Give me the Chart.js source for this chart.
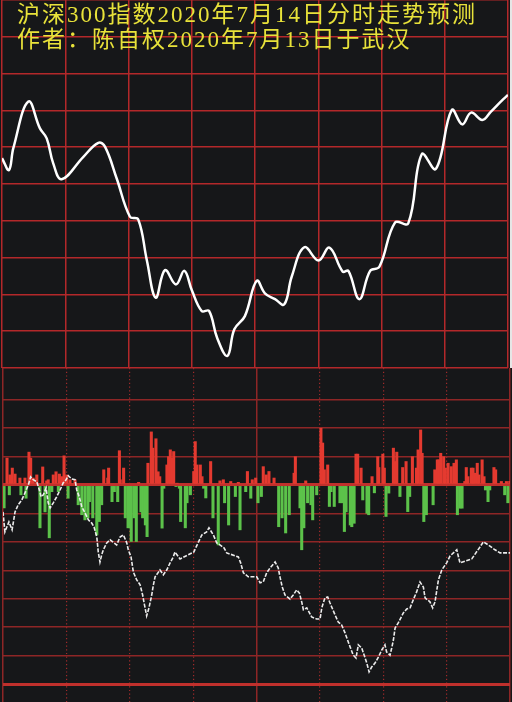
<!DOCTYPE html>
<html>
<head>
<meta charset="utf-8">
<script src="https://cdn.jsdelivr.net/npm/chart.js@4/dist/chart.umd.min.js"></script>
<style>
html, body { margin: 0; padding: 0; background: #fff; }
#wrap { position: relative; width: 512px; height: 702px; background: #161719; overflow: hidden; }
#topBox { position: absolute; left: 0; top: 0; width: 510px; height: 369px; }
#botBox { position: absolute; left: 0; top: 368px; width: 512px; height: 334px; }
#edge { position: absolute; left: 510px; top: 0; width: 2px; height: 368px; background: #e6e6e6; }
#title {
  position: absolute; left: 17px; top: 3px;
  color: #e8e23a; font-size: 23px; line-height: 24.5px;
  font-family: 'Liberation Serif', 'Noto Sans CJK SC', serif;
  letter-spacing: 2px; white-space: nowrap;
}
</style>
</head>
<body>
<div id="wrap">
  <div id="topBox"><canvas id="topChart" width="510" height="369"></canvas></div>
  <div id="edge"></div>
  <div id="botBox"><canvas id="botChart" width="512" height="334"></canvas></div>
  <div id="title">沪深300指数2020年7月14日分时走势预测<br>作者：陈自权2020年7月13日于武汉</div>
</div>
<script>
// 分时价格 (minute, level)
const topMin = [0, 3.3, 5.4, 12.5, 18.0, 21.2, 24.3, 28.3, 38.6, 45.7, 48.9, 54.4, 60.7, 64.6, 68.7, 72.9,
  77.3, 82.5, 86.5, 90.0, 94.7, 98.2, 102.1, 106.9, 110.2, 115.2, 120.8, 124.7, 129.5, 133.9, 137.4, 143.4,
  150.1, 155.3, 161.6, 164.3, 169.5, 174.6, 179.0, 186.4, 192.7, 199.1, 205.8, 213.3, 218.3, 222.5, 227.8,
  231.8, 237.3, 240];
const topLevel = [4757.0, 4753.8, 4759.8, 4772.4, 4765.1, 4762.4, 4755.6, 4751.3, 4757.4, 4761.2, 4760.1,
  4751.5, 4741.1, 4740.4, 4729.3, 4719.1, 4726.6, 4722.7, 4726.4, 4721.2, 4715.5, 4715.5, 4708.1, 4703.3,
  4710.5, 4714.1, 4723.7, 4720.3, 4718.7, 4717.3, 4724.8, 4732.8, 4729.2, 4732.7, 4726.2, 4726.4, 4718.7,
  4726.4, 4727.5, 4739.5, 4739.3, 4758.1, 4754.1, 4770.1, 4766.2, 4769.4, 4767.4, 4769.6, 4772.8, 4774.2];

// 红柱 (minute, value)
const upMin = [1.9, 3.3, 4.4, 5.7, 8.0, 10.4, 12.3, 13.1, 14.3, 16.0, 18.8, 20.7, 21.4, 23.8, 25.1, 26.7, 27.8,
  28.9, 30.2, 31.7, 34.1, 47.7, 49.6, 50.0, 55.1, 55.5, 57.1, 64.2, 68.6, 70.2, 70.9, 72.4, 73.4, 74.2, 77.6,
  78.4, 79.2, 80.0, 80.8, 82.4, 90.3, 91.0, 91.8, 93.4, 94.2, 98.3, 102.7, 104.3, 107.8, 111.4, 115.7, 118.0,
  119.6, 123.2, 124.6, 125.9, 128.3, 137.8, 138.4, 143.3, 150.5, 151.3, 152.1, 153.7, 167.1, 167.9, 169.5,
  174.7, 177.4, 177.9, 179.8, 180.5, 184.8, 185.6, 186.4, 189.2, 190.8, 193.8, 195.7, 196.5, 197.7, 198.4,
  204.4, 205.6, 206.3, 207.2, 208.6, 209.4, 210.7, 212.2, 213.5, 214.6, 218.6, 219.3, 220.1, 221.7, 222.5,
  223.3, 224.5, 225.3, 226.8, 227.7, 232.4, 233.2, 235.9, 238.3, 239.9];
const upVal = [9.4, 3.5, 5.9, 3.8, 2.4, 2.4, 11.5, 9.4, 2.4, 3.5, 6.3, 1.4, 1.8, 3.5, 4.6, 3.8, 2.9,
  10.2, 3.5, 1.8, 1.8, 5.3, 2.4, 5.9, 12.0, 1.8, 5.9, 0.9, 7.6, 18.6, 12.9, 16.2, 4.6, 2.9, 7.0,
  9.9, 12.3, 9.4, 11.7, 0.6, 4.7, 15.2, 7.0, 7.0, 2.9, 8.2, 1.4, 1.8, 1.2, 0.9, 4.7, 1.8,
  2.4, 6.4, 3.5, 4.7, 2.4, 4.1, 9.9, 1.4, 19.9, 14.7, 5.3, 7.0, 10.8, 10.8, 5.9,
  2.9, 9.9, 6.1, 10.8, 5.9, 12.9, 8.2, 11.5, 6.1, 8.2, 9.9, 5.9, 12.3, 19.3, 11.1,
  5.3, 8.8, 8.8, 11.1, 9.9, 5.9, 7.6, 6.4, 7.6, 8.8, 1.2, 6.1, 2.9, 5.9, 5.9,
  4.1, 7.6, 3.5, 8.8, 2.9, 6.1, 5.3, 1.2, 1.2, 1.2];

// 绿柱 (minute, value)
const downMin = [0.5, 3.0, 8.5, 10.9, 17.5, 19.9, 21.9, 23.1, 26.2, 30.8, 35.6, 37.3, 38.8, 40.2, 40.9, 42.5,
  44.4, 45.6, 46.7, 51.6, 52.7, 54.3, 57.9, 59.2, 60.1, 60.7, 62.0, 63.1, 65.3, 66.1, 67.4, 68.2, 75.3, 76.1,
  81.9, 83.5, 84.1, 86.3, 87.1, 88.7, 95.0, 96.0, 99.4, 101.9, 104.9, 106.8, 110.0, 112.2, 114.9, 117.3,
  120.7, 122.3, 130.5, 132.1, 133.8, 135.5, 140.6, 141.4, 142.4, 144.2, 145.8, 146.6, 148.5, 154.5, 155.3,
  156.8, 159.5, 160.5, 161.6, 162.4, 164.4, 165.1, 166.2, 170.3, 172.3, 173.1, 175.8, 181.3, 182.6, 187.9,
  191.6, 192.5, 199.2, 200.4, 203.6, 215.1, 216.3, 217.3, 228.4, 229.6, 230.4, 237.5, 239.0];
const downVal = [-8.1, -3.5, -3.5, -4.7, -15.1, -9.5, -18.6, -2.4, -2.4, -4.7, -7.0, -10.5, -12.3, -11.6, -5.9, -11.6,
  -17.6, -12.9, -7.0, -5.9, -2.4, -5.9, -11.6, -15.1, -15.1, -19.9, -11.6, -19.9, -9.5, -11.6, -14.1, -18.2, -15.2, -1.2,
  -0.6, -1.2, -12.9, -15.1, -6.3, -3.5, -1.2, -4.6, -11.6, -21.1, -6.3, -14.1, -4.1, -15.8, -2.4, -4.7,
  -6.3, -4.1, -14.7, -11.6, -16.9, -10.5, -8.1, -22.8, -15.1, -6.3, -7.0, -12.3, -3.5, -7.6, -2.4,
  -7.6, -6.3, -6.3, -16.4, -9.5, -14.1, -14.7, -13.5, -5.3, -10.0, -10.5, -2.8, -11.1, -2.9, -4.1,
  -9.4, -4.1, -12.9, -10.5, -7.0, -10.5, -8.2, -8.2, -1.8, -5.9, -1.8, -3.5, -6.3];

// 白色虚线 (minute, value)
const flowMin = [0.0, 0.9, 2.8, 4.3, 5.7, 7.2, 8.9, 10.4, 12.0, 13.1, 14.3, 16.0, 17.5, 18.0, 19.1, 20.4, 21.4,
  22.3, 23.8, 25.4, 27.0, 28.5, 29.4, 30.9, 32.5, 34.1, 34.9, 36.1, 37.3, 38.8, 40.4, 42.0, 43.1, 44.4, 45.1,
  45.9, 46.7, 47.5, 49.1, 50.7, 53.8, 55.4, 57.0, 58.6, 59.3, 60.6, 61.7, 63.3, 64.9, 66.1, 66.7, 68.0, 69.1,
  70.4, 71.2, 72.0, 74.3, 75.9, 77.5, 79.1, 80.6, 81.4, 83.8, 90.3, 94.1, 96.4, 97.5, 99.6, 101.2, 102.7,
  104.6, 105.9, 111.4, 112.5, 113.8, 116.1, 120.1, 121.7, 123.2, 124.8, 126.4, 128.8, 130.3, 131.1, 132.2,
  133.5, 135.9, 137.4, 139.0, 140.3, 141.4, 142.2, 143.8, 146.1, 148.5, 150.1, 150.9, 152.4, 153.7, 154.8,
  157.2, 158.7, 160.3, 161.9, 164.3, 165.8, 167.1, 168.2, 169.8, 171.4, 172.2, 173.3, 174.5, 176.1, 177.7,
  179.3, 180.8, 181.6, 183.2, 184.0, 184.8, 185.6, 187.1, 189.5, 191.1, 192.7, 194.2, 195.8, 197.4, 199.0,
  199.8, 202.1, 203.4, 204.5, 206.1, 207.7, 210.0, 211.6, 213.2, 214.8, 216.3, 221.9, 225.8, 227.4, 229.7,
  232.9, 235.3, 240.0];
const flowVal = [-9.5, -16.5, -13.0, -15.8, -9.5, -7.0, -5.3, -2.8, 0.0, 2.8, 1.8, 1.1, -2.5, -4.2, -3.5, -1.1, -6.3,
  -8.1, -6.3, -4.2, -1.8, 0.7, 1.2, 3.2, 2.1, 1.8, -1.8, -4.2, -7.7, -9.8, -12.3, -13.4, -14.8, -18.3, -23.6,
  -27.1, -24.6, -22.8, -20.4, -19.3, -21.1, -18.3, -17.6, -20.4, -22.8, -25.3, -30.6, -33.4, -35.1, -38.7, -41.1, -46.0, -43.2,
  -38.7, -35.1, -32.3, -29.9, -31.6, -29.9, -27.4, -25.3, -23.6, -26.0, -23.6, -17.6, -16.5, -15.1, -17.6, -20.4, -21.1,
  -22.1, -23.9, -25.3, -27.4, -30.9, -32.3, -32.3, -34.4, -34.1, -30.9, -29.2, -27.1, -29.2, -32.3, -35.9,
  -38.7, -40.1, -38.7, -36.9, -38.0, -41.1, -43.9, -43.2, -46.4, -47.1, -47.1, -43.2, -39.7, -39.4, -41.5,
  -45.7, -48.2, -49.2, -52.0, -56.9, -59.8, -60.8, -56.2, -57.3, -60.8, -62.6, -65.7, -64.0, -62.6, -60.5,
  -58.0, -56.2, -58.7, -59.8, -57.3, -54.5, -50.3, -48.5, -45.0, -43.6, -43.2, -40.4, -37.6, -34.1, -35.9,
  -39.7, -41.1, -43.2, -41.1, -33.4, -29.9, -27.4, -25.0, -23.9, -22.8, -27.4, -26.0, -21.8, -20.0, -21.1,
  -22.8, -23.9, -23.9];

function pts(xs, ys) { return xs.map(function(x, i) { return { x: x, y: ys[i] }; }); }

new Chart(document.getElementById('topChart'), {
  type: 'line',
  data: {
    datasets: [{
      data: pts(topMin, topLevel), borderColor: '#ffffff', borderWidth: 2.5,
      tension: 0.4, pointRadius: 0, fill: false
    }]
  },
  options: {
    responsive: false, animation: false,
    layout: { padding: { left: 2, right: 2, top: 0, bottom: 1 } },
    plugins: { legend: { display: false }, tooltip: { enabled: false } },
    scales: {
      x: {
        type: 'linear', min: 0, max: 240,
        ticks: { display: false, stepSize: 30 },
        grid: { color: '#b3282a', lineWidth: 1.5, drawTicks: false },
        border: { display: false }
      },
      y: {
        min: 4700, max: 4800,
        ticks: { display: false, stepSize: 10 },
        grid: { color: '#b3282a', lineWidth: 1.5, drawTicks: false },
        border: { display: false }
      }
    }
  }
});

function isMajor(v) { return Math.abs(v % 10) < 0.01; }

new Chart(document.getElementById('botChart'), {
  type: 'bar',
  data: {
    datasets: [
      {
        type: 'line', data: pts(flowMin, flowVal), borderColor: '#ececec', borderWidth: 1.6,
        borderDash: [4, 1.5], tension: 0, pointRadius: 0, fill: false
      },
      { data: pts(upMin, upVal), backgroundColor: '#e43a30', barThickness: 2.4, grouped: false },
      { data: pts(downMin, downVal), backgroundColor: '#5cc24a', barThickness: 2.4, grouped: false }
    ]
  },
  options: {
    responsive: false, animation: false,
    layout: { padding: { left: 3, right: 2, top: 0, bottom: 0 } },
    plugins: { legend: { display: false }, tooltip: { enabled: false } },
    scales: {
      x: {
        type: 'linear', min: 0, max: 240, offset: false,
        ticks: { display: false, stepSize: 120 },
        grid: { color: '#8e2626', lineWidth: 1.5, drawTicks: false, offset: false },
        border: { display: false }
      },
      x2: {
        type: 'linear', axis: 'x', position: 'bottom', min: 0, max: 240, offset: false,
        ticks: { display: false, stepSize: 30 },
        grid: {
          color: function(c) { return c.tick.value % 120 === 0 ? 'transparent' : '#a02a2a'; },
          lineWidth: 1.2, drawTicks: false, offset: false
        },
        border: { display: false, dash: [1.2, 2.5] }
      },
      y: {
        min: -76.27, max: 41.05,
        ticks: { display: false, stepSize: 10 },
        grid: {
          color: function(c) {
            var v = c.tick.value;
            if (!isMajor(v)) return 'transparent';
            return (v === 0 || v === -70) ? '#c0302c' : '#8e2626';
          },
          lineWidth: function(c) {
            var v = c.tick.value;
            return (v === 0 || v === -70) ? 3 : 1.5;
          },
          drawTicks: false
        },
        border: { display: false }
      }
    }
  }
});
</script>
</body>
</html>
